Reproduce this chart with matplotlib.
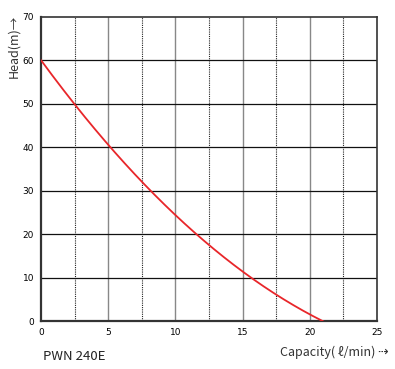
import matplotlib
matplotlib.use("Agg")
import matplotlib.pyplot as plt
import numpy as np

capacity = [0, 2.5, 5, 7.5, 10, 12.5, 15, 17.5, 20, 21]
head = [60, 50, 40.5, 32, 24.5, 17.5, 11.5, 6, 1.5, 0]
x_ticks = [0, 5, 10, 15, 20, 25]
y_ticks = [0, 10, 20, 30, 40, 50, 60, 70]
model = "PWN 240E"

fig = plt.figure(figsize=(3.95, 3.69), dpi=100)
ax = fig.add_axes([0.104, 0.130, 0.850, 0.824])

# smooth curve through the read points
xs = np.linspace(capacity[0], capacity[-1], 200)
coef = np.polyfit(capacity, head, 3)
ax.plot(xs, np.polyval(coef, xs), color="#e8262a", lw=1.3, zorder=3)

for v in [5, 10, 15, 20]:
    ax.axvline(v, color="#888888", lw=1.0, zorder=1)
for v in [2.5, 7.5, 12.5, 17.5, 22.5]:
    ax.axvline(v, color="#222222", lw=0.8, ls=(0, (1, 1)), zorder=1)
for v in [10, 20, 30, 40, 50, 60]:
    ax.axhline(v, color="#111111", lw=0.9, zorder=1)

ax.set_xlim(0, 25)
ax.set_ylim(0, 70)
ax.set_xticks(x_ticks)
ax.set_yticks(y_ticks)
ax.tick_params(length=0, labelsize=6.5, pad=5)
for s in ax.spines.values():
    s.set_color("#333333")
    s.set_linewidth(1.2)
ax.spines["left"].set_linewidth(1.6)
ax.spines["bottom"].set_linewidth(1.6)

fig.text(0.035, 0.875, "Head(m)\u2192", rotation=90, ha="center", va="center",
         fontsize=9, color="#333333", family=["Noto Sans CJK KR", "DejaVu Sans"])
fig.text(0.11, 0.035, model, ha="left", va="center", fontsize=9.5, color="#222222",
         family=["Noto Sans CJK KR", "DejaVu Sans"])
fig.text(0.985, 0.045, "Capacity( \u2113/min) \u21e2", ha="right", va="center", fontsize=9,
         color="#333333", family=["Noto Sans CJK KR", "DejaVu Sans"])

fig.savefig("out.png", dpi=100)
